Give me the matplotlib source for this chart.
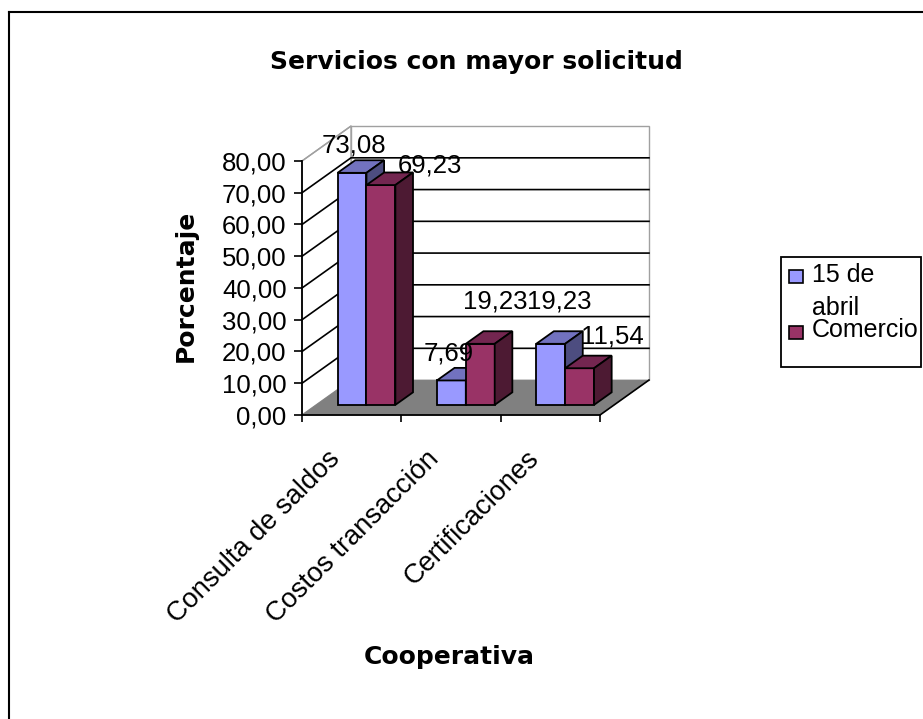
import matplotlib
matplotlib.use("Agg")
import matplotlib.pyplot as plt
from matplotlib.patches import Polygon, Rectangle

plt.rcParams['font.family'] = ['Liberation Sans', 'DejaVu Sans']

categories = ["Consulta de saldos", "Costos transacción", "Certificaciones"]
series_names = ["15 de\nabril", "Comercio"]
abril = [73.08, 7.69, 19.23]
comercio = [69.23, 19.23, 11.54]
yticks = [0, 10, 20, 30, 40, 50, 60, 70, 80]

BLUE = ("#9999ff", "#7272bf", "#4d4d80")
RED = ("#993366", "#732650", "#4d1a33")
FLOOR = "#808080"
DEPTH_X = 0.493   # wall offset in category units
DEPTH_Y = 11.0    # wall offset in value units

W, H = 923, 719
fig = plt.figure(figsize=(W / 100, H / 100), dpi=100, facecolor="white")
ax = fig.add_axes([302 / W, 1 - 415 / H, 298 / W, 254 / H])
ax.set_xlim(0, 3)
ax.set_ylim(0, 80)
ax.patch.set_visible(False)
for side in ["top", "right"]:
    ax.spines[side].set_visible(False)
ax.spines["left"].set_linewidth(1.3)
ax.spines["bottom"].set_linewidth(1.3)


def proj(x, y, d=0.0):
    return (x + d * DEPTH_X, y + d * DEPTH_Y)


def poly(pts, fc, ec="black", lw=1.3, z=3):
    ax.add_patch(Polygon(pts, closed=True, fc=fc, ec=ec, lw=lw, zorder=z, clip_on=False, joinstyle="miter"))


# floor and back wall
poly([proj(0, 0), proj(3, 0), proj(3, 0, 1), proj(0, 0, 1)], FLOOR, ec=FLOOR, lw=0.5, z=1)
poly([proj(0, 0, 1), proj(3, 0, 1), proj(3, 80, 1), proj(0, 80, 1)], "white", ec="#a0a0a0", lw=1.0, z=0.5)
poly([proj(0, 0), proj(0, 0, 1), proj(0, 80, 1), proj(0, 80)], "white", ec="#a0a0a0", lw=1.0, z=0.5)

# gridlines on both walls
for v in yticks[1:-1]:
    ax.plot(*zip(proj(0, v), proj(0, v, 1), proj(3, v, 1)), color="black", lw=1.2, zorder=0.8, clip_on=False)
ax.plot(*zip(proj(0, 80), proj(0, 80, 1)), color="#a0a0a0", lw=1.0, zorder=0.8, clip_on=False)
ax.plot(*zip(proj(3, 0), proj(3, 0, 1)), color="black", lw=1.2, zorder=1.2, clip_on=False)


def bar3d(x0, x1, val, colors, z):
    front, top, side = colors
    d0, d1 = 0.29, 0.65
    poly([proj(x0, 0, d0), proj(x1, 0, d0), proj(x1, val, d0), proj(x0, val, d0)], front, z=z)
    poly([proj(x0, val, d0), proj(x1, val, d0), proj(x1, val, d1), proj(x0, val, d1)], top, z=z)
    poly([proj(x1, 0, d0), proj(x1, 0, d1), proj(x1, val, d1), proj(x1, val, d0)], side, z=z)


bar_w = 0.291
for i, (a, c) in enumerate(zip(abril, comercio)):
    start = i + 0.215
    bar3d(start, start + bar_w, a, BLUE, 3 + i)
    bar3d(start + bar_w, start + 2 * bar_w, c, RED, 3.5 + i)

# data labels
label_a = ["73,08", "7,69", "19,23"]
label_c = ["69,23", "19,23", "11,54"]
pos_a = [(0.524, 85.0), (1.48, 19.5), (2.59, 35.6)]
pos_c = [(1.289, 78.7), (1.943, 35.6), (3.12, 24.6)]
for s, p in zip(label_a + label_c, pos_a + pos_c):
    ax.text(p[0], p[1], s, fontsize=18.5, ha="center", va="center", zorder=10, clip_on=False)

ax.set_xticks([0, 1, 2, 3], labels=[])
ax.set_yticks(yticks, labels=[f"{v},00" for v in yticks])
ax.tick_params(axis="y", length=6, width=1.2, pad=5, labelsize=18.5)
ax.tick_params(axis="x", length=5, width=1.2)
for i, name in enumerate(categories):
    ax.annotate(name, xy=(i + 0.25, 0), xytext=(0, -22), textcoords="offset points",
                rotation=45, rotation_mode="anchor", ha="right", va="top", fontsize=19.6)

bold = dict(family="DejaVu Sans", fontweight="bold", fontsize=18, ha="center", va="center")
fig.text(476 / W, 1 - 62 / H, "Servicios con mayor solicitud", **bold)
fig.text(186 / W, 1 - 286 / H, "Porcentaje", rotation=90, **bold)
fig.text(449 / W, 1 - 657 / H, "Cooperativa", **bold)

# picture frame, open at the right and bottom
fig.add_artist(plt.Line2D([9 / W, 9 / W], [0, 1 - 12 / H], color="black", lw=1.5))
fig.add_artist(plt.Line2D([9 / W, 1], [1 - 12 / H, 1 - 12 / H], color="black", lw=1.5))

# legend box
fig.add_artist(Rectangle((781 / W, 1 - 367 / H), 140 / W, 110 / H, transform=fig.transFigure, fc="white", ec="black", lw=1.3))
fig.add_artist(Rectangle((789 / W, 1 - 283 / H), 14 / W, 13 / H, transform=fig.transFigure, fc=BLUE[0], ec="black", lw=1.2))
fig.add_artist(Rectangle((789 / W, 1 - 339 / H), 14 / W, 13 / H, transform=fig.transFigure, fc=RED[0], ec="black", lw=1.2))
fig.text(812 / W, 1 - 275 / H, "15 de", fontsize=18, va="center")
fig.text(812 / W, 1 - 308 / H, "abril", fontsize=18, va="center")
fig.text(812 / W, 1 - 330 / H, series_names[1], fontsize=18, va="center")

fig.savefig("out.png", dpi=100)
